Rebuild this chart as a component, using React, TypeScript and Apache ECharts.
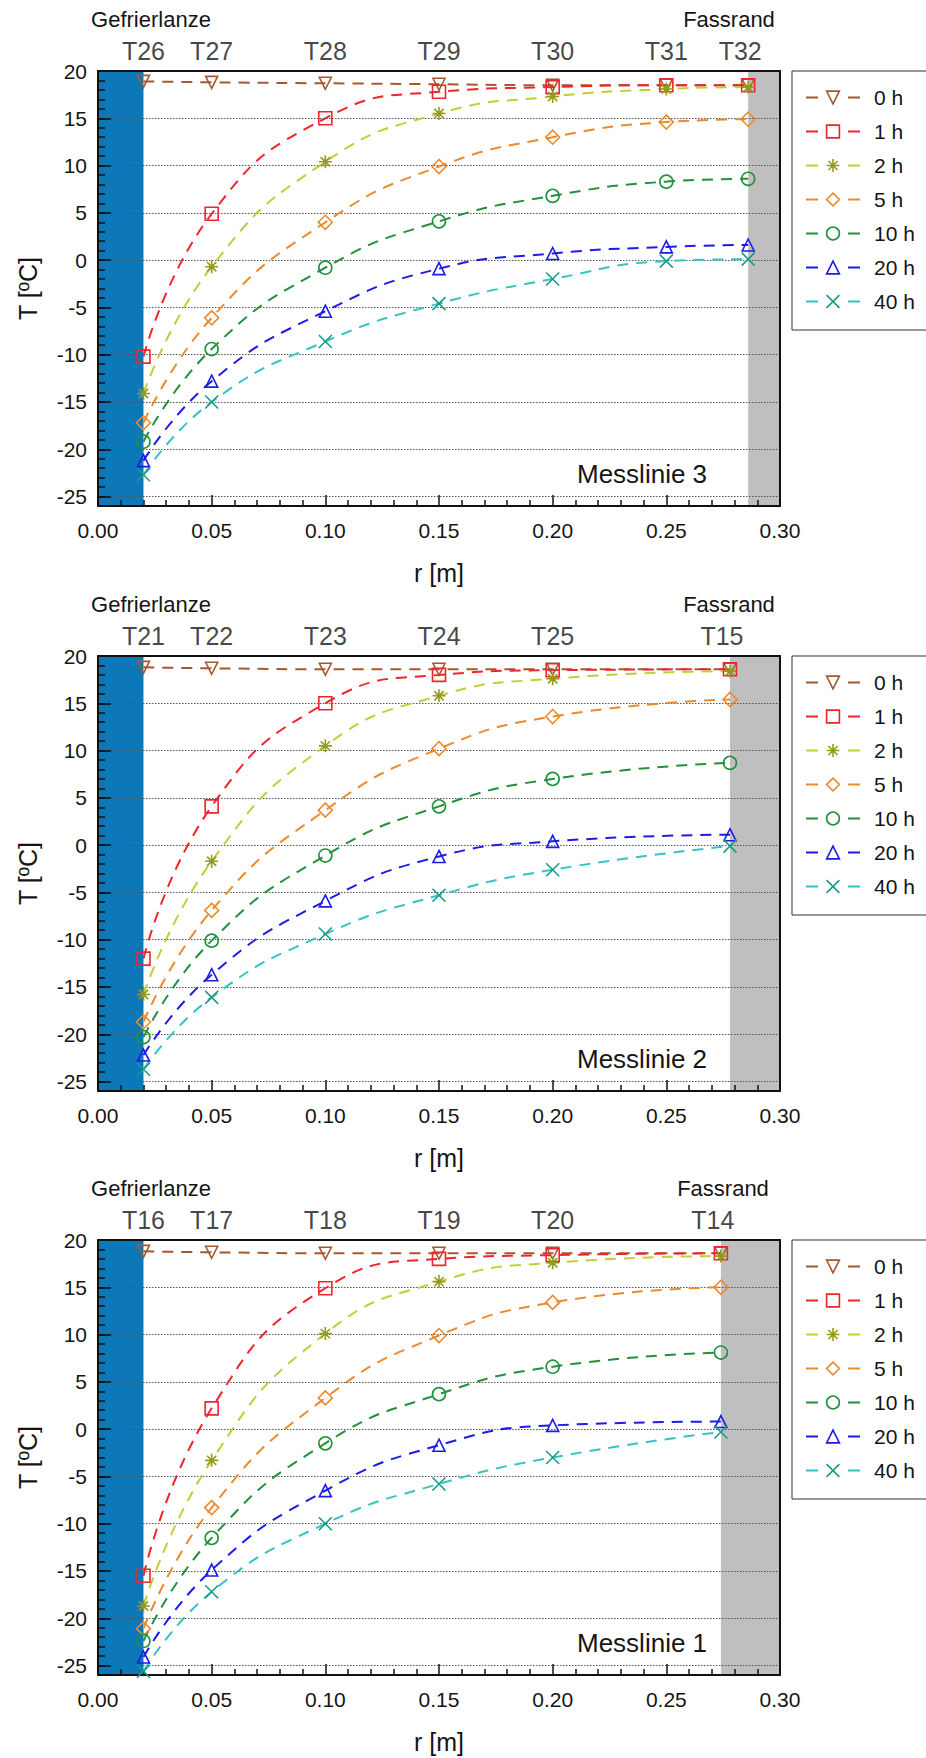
import React, { useEffect, useRef } from 'react';
import * as echarts from 'echarts';

// ---------- data ----------
const timeNames = ['0 h', '1 h', '2 h', '5 h', '10 h', '20 h', '40 h'];
const panelTitles = ['Messlinie 3', 'Messlinie 2', 'Messlinie 1'];

const lanceRadius = 0.02;
const barrelRadius = [0.286, 0.278, 0.274];

// Messlinie 3
const ml3Radius = [0.02, 0.05, 0.10, 0.15, 0.20, 0.25, 0.286];
const ml3Sensors = ['T26', 'T27', 'T28', 'T29', 'T30', 'T31', 'T32'];
const ml3_0h = [18.9, 18.8, 18.7, 18.6, 18.5, 18.5, 18.5];
const ml3_1h = [-10.2, 4.9, 15.0, 17.8, 18.3, 18.5, 18.5];
const ml3_2h = [-14.1, -0.7, 10.4, 15.5, 17.3, 18.1, 18.3];
const ml3_5h = [-17.2, -6.1, 4.0, 9.9, 13.0, 14.6, 14.9];
const ml3_10h = [-19.2, -9.4, -0.8, 4.1, 6.8, 8.3, 8.6];
const ml3_20h = [-21.2, -12.8, -5.4, -0.9, 0.7, 1.4, 1.6];
const ml3_40h = [-22.7, -15.0, -8.6, -4.6, -2.0, -0.1, 0.1];

// Messlinie 2
const ml2Radius = [0.02, 0.05, 0.10, 0.15, 0.20, 0.278];
const ml2Sensors = ['T21', 'T22', 'T23', 'T24', 'T25', 'T15'];
const ml2_0h = [18.8, 18.7, 18.6, 18.6, 18.6, 18.6];
const ml2_1h = [-12.0, 4.1, 15.0, 18.0, 18.5, 18.6];
const ml2_2h = [-15.8, -1.7, 10.5, 15.8, 17.6, 18.4];
const ml2_5h = [-18.7, -6.9, 3.7, 10.2, 13.6, 15.4];
const ml2_10h = [-20.3, -10.1, -1.1, 4.1, 7.0, 8.7];
const ml2_20h = [-22.2, -13.7, -5.9, -1.2, 0.4, 1.1];
const ml2_40h = [-23.7, -16.1, -9.4, -5.3, -2.6, -0.1];

// Messlinie 1
const ml1Radius = [0.02, 0.05, 0.10, 0.15, 0.20, 0.274];
const ml1Sensors = ['T16', 'T17', 'T18', 'T19', 'T20', 'T14'];
const ml1_0h = [18.8, 18.7, 18.6, 18.6, 18.6, 18.6];
const ml1_1h = [-15.5, 2.2, 14.9, 18.0, 18.4, 18.6];
const ml1_2h = [-18.7, -3.3, 10.1, 15.6, 17.6, 18.3];
const ml1_5h = [-21.1, -8.3, 3.3, 9.9, 13.4, 15.0];
const ml1_10h = [-22.4, -11.5, -1.5, 3.7, 6.6, 8.1];
const ml1_20h = [-24.1, -14.9, -6.5, -1.7, 0.4, 0.8];
const ml1_40h = [-25.6, -17.2, -10.0, -5.8, -3.0, -0.3];

const xTicks = { min: 0, max: 0.3, interval: 0.05 };
const yRange = { min: -26, max: 20 };

// ---------- styles ----------
const FONT = '"Liberation Sans", Arial, Helvetica, sans-serif';
const TXT = '#151515';
const LINE_COLORS = ['#a6582d', '#f0242c', '#c6cc36', '#ec8a2c', '#22903c', '#1c1ce8', '#35c3c3'];
const MARK_COLORS = ['#a6582d', '#f0242c', '#949b1c', '#ec8a2c', '#22903c', '#1c1ce8', '#169d85'];
const ASTERISK = 'path://M10,0L10,20M0,10L20,10M2.9,2.9L17.1,17.1M2.9,17.1L17.1,2.9';
const CROSS = 'path://M0,0L20,20M0,20L20,0';
const SYMBOLS = ['triangle', 'rect', ASTERISK, 'diamond', 'circle', 'triangle', CROSS];
const ROTATE = [180, 0, 0, 0, 0, 0, 0];
const SIZES = [12, 13, 13, 14, 13, 12, 13];
const LANCE_COLOR = '#0c78b8';
const BARREL_COLOR = '#bfbfbf';

const GRID_TOPS = [71, 656, 1240];
const GRID_LEFT = 98;
const GRID_W = 682;
const GRID_H = 435;

const panels = [
  { radius: ml3Radius, sensors: ml3Sensors, values: [ml3_0h, ml3_1h, ml3_2h, ml3_5h, ml3_10h, ml3_20h, ml3_40h] },
  { radius: ml2Radius, sensors: ml2Sensors, values: [ml2_0h, ml2_1h, ml2_2h, ml2_5h, ml2_10h, ml2_20h, ml2_40h] },
  { radius: ml1Radius, sensors: ml1Sensors, values: [ml1_0h, ml1_1h, ml1_2h, ml1_5h, ml1_10h, ml1_20h, ml1_40h] },
];

function buildOption() {
  const grid: any[] = [];
  const xAxis: any[] = [];
  const yAxis: any[] = [];
  const series: any[] = [];
  const legend: any[] = [];
  const graphic: any[] = [];

  panels.forEach((p, i) => {
    const top = GRID_TOPS[i];
    grid.push({ left: GRID_LEFT, top, width: GRID_W, height: GRID_H, containLabel: false });

    xAxis.push({
      type: 'value', gridIndex: i, position: 'bottom', ...xTicks, z: 2,
      name: 'r [m]', nameLocation: 'middle', nameGap: 54,
      nameTextStyle: { fontSize: 25, color: TXT, fontFamily: FONT },
      axisLine: { show: true, onZero: false, lineStyle: { color: '#111', width: 2 } },
      axisTick: { show: true, inside: true, length: 11, lineStyle: { color: '#111', width: 1.5 } },
      minorTick: { show: true, splitNumber: 5, length: 6, lineStyle: { color: '#111', width: 1.5 } },
      axisLabel: { fontSize: 21, color: TXT, fontFamily: FONT, margin: 14, formatter: (v: number) => v.toFixed(2) },
      splitLine: { show: false },
    });
    xAxis.push({
      type: 'value', gridIndex: i, position: 'top', ...xTicks, z: 4,
      axisLine: { show: true, onZero: false, lineStyle: { color: '#111', width: 2 } },
      axisTick: { show: false }, axisLabel: { show: false }, splitLine: { show: false },
    });

    yAxis.push({
      type: 'value', gridIndex: i, position: 'left', ...yRange, splitNumber: 9, minInterval: 5, maxInterval: 5, z: 2,
      name: 'T [ºC]', nameLocation: 'middle', nameGap: 58,
      nameTextStyle: { fontSize: 25, color: TXT, fontFamily: FONT },
      axisLine: { show: true, onZero: false, lineStyle: { color: '#111', width: 2 } },
      axisTick: { show: true, inside: true, length: 13, lineStyle: { color: '#111', width: 1.5 } },
      axisLabel: { fontSize: 21, color: TXT, fontFamily: FONT, margin: 11, formatter: (v: number) => (v % 5 === 0 ? String(v) : '') },
      splitLine: { show: true, lineStyle: { color: '#555', width: 1, type: [1.5, 1.5] } },
    });
    yAxis.push({
      type: 'value', gridIndex: i, position: 'left', ...yRange, interval: 1, z: 2,
      axisLine: { show: false },
      axisTick: { show: true, inside: true, length: 7, lineStyle: { color: '#111', width: 1.5 } },
      axisLabel: { show: false }, splitLine: { show: false },
    });
    yAxis.push({
      type: 'value', gridIndex: i, position: 'right', ...yRange, z: 4,
      axisLine: { show: true, onZero: false, lineStyle: { color: '#111', width: 2 } },
      axisTick: { show: false }, axisLabel: { show: false }, splitLine: { show: false },
    });

    const xi = 2 * i;
    const yi = 3 * i;
    const last = p.radius.length - 1;

    // sensor labels + lance / barrel regions
    series.push({
      type: 'scatter', xAxisIndex: xi, yAxisIndex: yi, z: 1, silent: true, clip: false,
      symbol: 'circle', symbolSize: 1, itemStyle: { color: 'transparent' },
      data: p.radius.map((r, k) => ({
        value: [r, yRange.max],
        label: k === last ? { offset: [-8, 0] } : undefined,
      })),
      label: {
        show: true, position: 'top', distance: 7, fontSize: 25, color: TXT, fontFamily: FONT,
        formatter: (prm: any) => p.sensors[prm.dataIndex],
      },
      markArea: {
        silent: true, z: 1,
        data: [
          [{ xAxis: xTicks.min, yAxis: yRange.min, itemStyle: { color: LANCE_COLOR, borderWidth: 0 } }, { xAxis: lanceRadius, yAxis: yRange.max }],
          [{ xAxis: barrelRadius[i], yAxis: yRange.min, itemStyle: { color: BARREL_COLOR, borderWidth: 0 } }, { xAxis: xTicks.max, yAxis: yRange.max }],
        ],
      },
    });

    timeNames.forEach((name, s) => {
      series.push({
        type: 'line', name, xAxisIndex: xi, yAxisIndex: yi, z: 3,
        data: p.radius.map((r, k) => [r, p.values[s][k]]),
        smooth: true,
        symbol: SYMBOLS[s], symbolSize: SIZES[s], symbolRotate: ROTATE[s], showAllSymbol: true,
        color: LINE_COLORS[s],
        lineStyle: { color: LINE_COLORS[s], width: 2, type: [11, 8] },
        itemStyle: { color: 'transparent', borderColor: MARK_COLORS[s], borderWidth: 1.6 },
        emphasis: { disabled: true },
      });
    });

    legend.push({
      orient: 'vertical', left: 792, top, itemWidth: 54, itemHeight: 16, itemGap: 13,
      padding: [16, 60, 18, 13], borderColor: '#333', borderWidth: 1, backgroundColor: '#fff',
      selectedMode: false,
      textStyle: { fontSize: 21, lineHeight: 21, color: TXT, fontFamily: FONT, padding: [0, 0, 0, 9] },
      data: timeNames.map((name, s) => ({
        name,
        lineStyle: { color: LINE_COLORS[s], width: 2, type: [12, 30] },
        itemStyle: { color: 'transparent', borderColor: MARK_COLORS[s], borderWidth: 1.6 },
      })),
    });

    graphic.push(
      { type: 'text', x: 151, y: top - 52, style: { text: 'Gefrierlanze', fontSize: 22, fontFamily: FONT, fill: TXT, align: 'center', verticalAlign: 'middle', textAlign: 'center', textVerticalAlign: 'middle' } },
      { type: 'text', x: i === 2 ? 723 : 729, y: top - 52, style: { text: 'Fassrand', fontSize: 22, fontFamily: FONT, fill: TXT, align: 'center', verticalAlign: 'middle', textAlign: 'center', textVerticalAlign: 'middle' } },
      { type: 'text', x: 577, y: top + GRID_H - 32, z: 10, style: { text: panelTitles[i], fontSize: 26, fontFamily: FONT, fill: TXT, align: 'left', verticalAlign: 'middle', textAlign: 'left', textVerticalAlign: 'middle' } },
    );
  });

  return {
    animation: false,
    backgroundColor: '#fff',
    textStyle: { fontFamily: FONT },
    grid, xAxis, yAxis, series, legend, graphic,
  };
}

export default function App() {
  const ref = useRef<HTMLDivElement>(null);
  useEffect(() => {
    if (!ref.current) return;
    const chart = echarts.init(ref.current, undefined, { renderer: 'svg' });
    chart.setOption(buildOption() as any);
    return () => chart.dispose();
  }, []);
  return <div ref={ref} style={{ position: 'absolute', left: 0, top: 0, width: 926, height: 1758 }} />;
}
